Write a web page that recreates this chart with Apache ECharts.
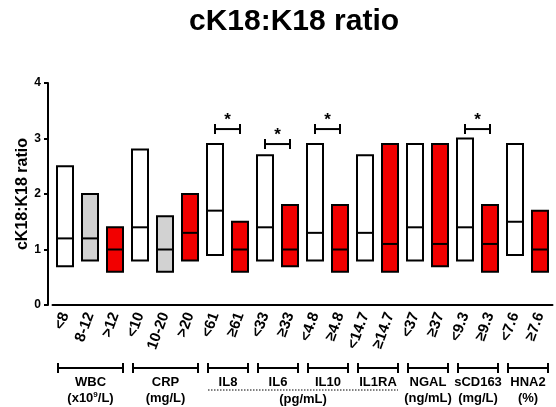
<!DOCTYPE html>
<html>
<head>
<meta charset="utf-8">
<script src="https://cdn.jsdelivr.net/npm/echarts@6/dist/echarts.min.js"></script>
<style>
  html, body { margin: 0; padding: 0; background: #fff; }
  #chart { width: 556px; height: 407px; }
</style>
</head>
<body>
<div id="chart"></div>
<script>
// categories and floating box values (min, max, median)
const categories = ['<8', '8-12', '>12', '<10', '10-20', '>20', '<61', '≥61', '<33', '≥33',
    '<4.8', '≥4.8', '<14.7', '≥14.7', '<37', '≥37', '<9.3', '≥9.3', '<7.6', '≥7.6'];
const lows    = [0.7, 0.8, 0.6, 0.8, 0.6, 0.8, 0.9, 0.6, 0.8, 0.7, 0.8, 0.6, 0.8, 0.6, 0.8, 0.7, 0.8, 0.6, 0.9, 0.6];
const highs   = [2.5, 2.0, 1.4, 2.8, 1.6, 2.0, 2.9, 1.5, 2.7, 1.8, 2.9, 1.8, 2.7, 2.9, 2.9, 2.9, 3.0, 1.8, 2.9, 1.7];
const medians = [1.2, 1.2, 1.0, 1.4, 1.0, 1.3, 1.7, 1.0, 1.4, 1.0, 1.3, 1.0, 1.3, 1.1, 1.4, 1.1, 1.4, 1.1, 1.5, 1.0];
const levels  = ['low', 'mid', 'high', 'low', 'mid', 'high', 'low', 'high', 'low', 'high',
    'low', 'high', 'low', 'high', 'low', 'high', 'low', 'high', 'low', 'high'];

// significance brackets: [from index, to index, height]
const sigLinks = [[6, 7, 3.17], [8, 9, 2.9], [10, 11, 3.17], [16, 17, 3.17]];

// groups under the axis
const groupNames = ['WBC', 'CRP', 'IL8', 'IL6', 'IL10', 'IL1RA', 'NGAL', 'sCD163', 'HNA2'];
const groupFrom  = [0, 3, 6, 8, 10, 12, 14, 16, 18];
const groupTo    = [2, 5, 7, 9, 11, 13, 15, 17, 19];
const groupUnits = ['{a|(x10}{s|9}{a|/L)}', '(mg/L)', '', '', '', '', '(ng/mL)', '(mg/L)', '(%)'];
// shared unit row
const sharedUnits = [['(pg/mL)', 6, 13]];

const yTicks = [0, 1, 2, 3, 4];

const FONT = '"Liberation Sans", Arial, sans-serif';
const fillFor = { low: '#ffffff', mid: '#d2d2d2', high: '#f20000' };

const chart = echarts.init(document.getElementById('chart'));

const boxData = categories.map((c, i) => [i, lows[i], highs[i], medians[i]]);

const option = {
    animation: false,
    backgroundColor: '#fff',
    title: {
        text: 'cK18:K18 ratio',
        left: 189,
        top: 7,
        padding: 0,
        textStyle: { fontFamily: FONT, fontWeight: 'bold', fontSize: 30, color: '#000' }
    },
    grid: { left: 52.5, right: 3.5, top: 83, bottom: 102 },
    xAxis: {
        type: 'category',
        data: categories,
        axisLine: { lineStyle: { color: '#000', width: 2 } },
        axisTick: { alignWithLabel: true, length: 5, lineStyle: { color: '#000', width: 2 } },
        axisLabel: {
            rotate: 70, margin: 8, interval: 0,
            fontFamily: FONT, fontWeight: 'bold', fontSize: 15, color: '#000'
        }
    },
    yAxis: {
        type: 'value',
        min: yTicks[0],
        max: yTicks[yTicks.length - 1],
        interval: 1,
        offset: 4.5,
        name: 'cK18:K18 ratio',
        nameLocation: 'middle',
        nameGap: 17,
        nameMoveOverlap: false,
        nameTextStyle: { fontFamily: FONT, fontWeight: 'bold', fontSize: 16, color: '#000' },
        splitLine: { show: false },
        axisLine: { show: true, lineStyle: { color: '#000', width: 2 } },
        axisTick: { show: true, length: 4, lineStyle: { color: '#000', width: 2 } },
        axisLabel: { fontFamily: FONT, fontWeight: 'bold', fontSize: 12, color: '#000', margin: 7 }
    },
    series: [
        {
            // min-max boxes with median line
            type: 'custom',
            data: boxData,
            renderItem(params, api) {
                const i = api.value(0);
                const band = api.size([1, 0])[0];
                const w = band * 0.64;
                const top = api.coord([i, api.value(2)]);
                const bot = api.coord([i, api.value(1)]);
                const med = api.coord([i, api.value(3)]);
                return {
                    type: 'group',
                    children: [
                        {
                            type: 'rect',
                            shape: { x: top[0] - w / 2, y: top[1], width: w, height: bot[1] - top[1] },
                            style: { fill: fillFor[levels[i]], stroke: '#000', lineWidth: 2 }
                        },
                        {
                            type: 'line',
                            shape: { x1: med[0] - w / 2, y1: med[1], x2: med[0] + w / 2, y2: med[1] },
                            style: { stroke: '#000', lineWidth: 2 }
                        }
                    ]
                };
            }
        },
        {
            // significance brackets
            type: 'custom',
            data: sigLinks,
            renderItem(params, api) {
                const a = api.coord([api.value(0), api.value(2)]);
                const b = api.coord([api.value(1), api.value(2)]);
                const s = { stroke: '#000', lineWidth: 2 };
                return {
                    type: 'group',
                    children: [
                        { type: 'line', shape: { x1: a[0], y1: a[1], x2: b[0], y2: b[1] }, style: s },
                        { type: 'line', shape: { x1: a[0], y1: a[1] - 5, x2: a[0], y2: a[1] + 5 }, style: s },
                        { type: 'line', shape: { x1: b[0], y1: b[1] - 5, x2: b[0], y2: b[1] + 5 }, style: s },
                        {
                            type: 'text',
                            style: {
                                text: '*', x: (a[0] + b[0]) / 2, y: a[1] - 9,
                                align: 'center', verticalAlign: 'middle',
                                font: 'bold 17px ' + FONT, fill: '#000'
                            }
                        }
                    ]
                };
            }
        },
        {
            // group brackets and labels below the axis
            type: 'custom',
            clip: false,
            data: groupNames.map((g, k) => [groupFrom[k], groupTo[k], k]),
            renderItem(params, api) {
                const k = api.value(2);
                const band = api.size([1, 0])[0];
                const base = api.coord([0, 0])[1];
                const x1 = api.coord([api.value(0), 0])[0] - band * 0.28;
                const x2 = api.coord([api.value(1), 0])[0] + band * 0.32;
                const y = base + 63;
                const s = { stroke: '#000', lineWidth: 2 };
                const kids = [
                    { type: 'line', shape: { x1: x1, y1: y, x2: x2, y2: y }, style: s },
                    { type: 'line', shape: { x1: x1, y1: y - 5, x2: x1, y2: y + 5 }, style: s },
                    { type: 'line', shape: { x1: x2, y1: y - 5, x2: x2, y2: y + 5 }, style: s },
                    {
                        type: 'text',
                        style: {
                            text: groupNames[k], x: (x1 + x2) / 2, y: base + 77,
                            align: 'center', verticalAlign: 'middle',
                            font: 'bold 13px ' + FONT, fill: '#000'
                        }
                    }
                ];
                if (groupUnits[k]) {
                    kids.push({
                        type: 'text',
                        style: {
                            text: groupUnits[k], x: (x1 + x2) / 2, y: base + 93,
                            align: 'center', verticalAlign: 'middle',
                            font: 'bold 13px ' + FONT, fill: '#000',
                            rich: {
                                a: { font: 'bold 13px ' + FONT, fill: '#000', lineHeight: 15 },
                                s: { font: 'bold 8px ' + FONT, fill: '#000', verticalAlign: 'top', lineHeight: 15 }
                            }
                        }
                    });
                }
                return { type: 'group', children: kids };
            }
        },
        {
            // shared unit with dotted line
            type: 'custom',
            clip: false,
            data: sharedUnits.map((u, k) => [u[1], u[2], k]),
            renderItem(params, api) {
                const k = api.value(2);
                const band = api.size([1, 0])[0];
                const base = api.coord([0, 0])[1];
                const x1 = api.coord([api.value(0), 0])[0] - band * 0.28;
                const x2 = api.coord([api.value(1), 0])[0] + band * 0.32;
                return {
                    type: 'group',
                    children: [
                        {
                            type: 'line',
                            shape: { x1: x1, y1: base + 85, x2: x2, y2: base + 85 },
                            style: { stroke: '#000', lineWidth: 1, lineDash: [1.5, 1.5] }
                        },
                        {
                            type: 'text',
                            style: {
                                text: sharedUnits[k][0], x: (x1 + x2) / 2, y: base + 94,
                                align: 'center', verticalAlign: 'middle',
                                font: 'bold 13px ' + FONT, fill: '#000'
                            }
                        }
                    ]
                };
            }
        }
    ]
};

chart.setOption(option);
</script>
</body>
</html>
